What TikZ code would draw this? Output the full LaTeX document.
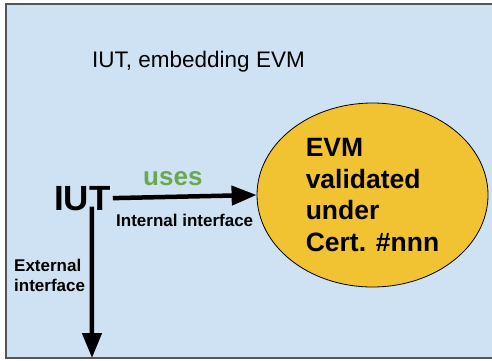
\documentclass[tikz,border=0pt]{standalone}
\usepackage{fontspec}
\setmainfont{Liberation Sans}
\usetikzlibrary{shapes.geometric,arrows.meta}
\definecolor{boxblue}{HTML}{CFE2F3}
\definecolor{boxedge}{HTML}{555555}
\definecolor{evmyellow}{HTML}{F1C232}
\definecolor{usesgreen}{HTML}{6AA84F}
\tikzset{
  lbl/.style={inner sep=0pt, anchor=base west},
  conn/.style={line width=4.5bp, -{Triangle[length=25bp,width=19bp]}},
}
\begin{document}
\begin{tikzpicture}[x=1bp,y=-1bp]
\useasboundingbox (0,0) rectangle (492,360);
\clip (0,0) rectangle (492,360);
\fill[white] (0,0) rectangle (492,360);
\draw[boxedge, fill=boxblue, line width=1.5bp] (6,4) rectangle (500,358);
\node[lbl, font=\fontsize{22.5bp}{27bp}\selectfont] (title) at (92,67) {IUT, embedding EVM};
\node[lbl, font=\fontsize{35bp}{40bp}\selectfont\bfseries] (iut) at (54,210) {IUT};
\node[ellipse, draw=black, line width=0.8bp, fill=evmyellow, minimum width=231bp, minimum height=184bp, inner sep=0pt,
      align=left, font=\fontsize{26.5bp}{31.7bp}\selectfont\bfseries] (evm) at (372.5,195)
  {EVM\\validated\\under\\Cert. \#nnn};
\coordinate (extend) at (92,358);
\draw[conn] ([xshift=2bp]iut.east) -- (evm.west);
\draw[conn] ([xshift=9.5bp,yshift=4bp]iut.south) -- (extend);
\node[lbl, font=\fontsize{26bp}{30bp}\selectfont\bfseries, text=usesgreen] (uses) at (143,185) {uses};
\node[lbl, font=\fontsize{17bp}{20bp}\selectfont\bfseries] (intif) at (116,226) {Internal interface};
\node[inner sep=0pt, anchor=north west, align=left, font=\fontsize{17bp}{20bp}\selectfont\bfseries] (extif) at (14,259) {External\\interface};
\end{tikzpicture}
\end{document}
